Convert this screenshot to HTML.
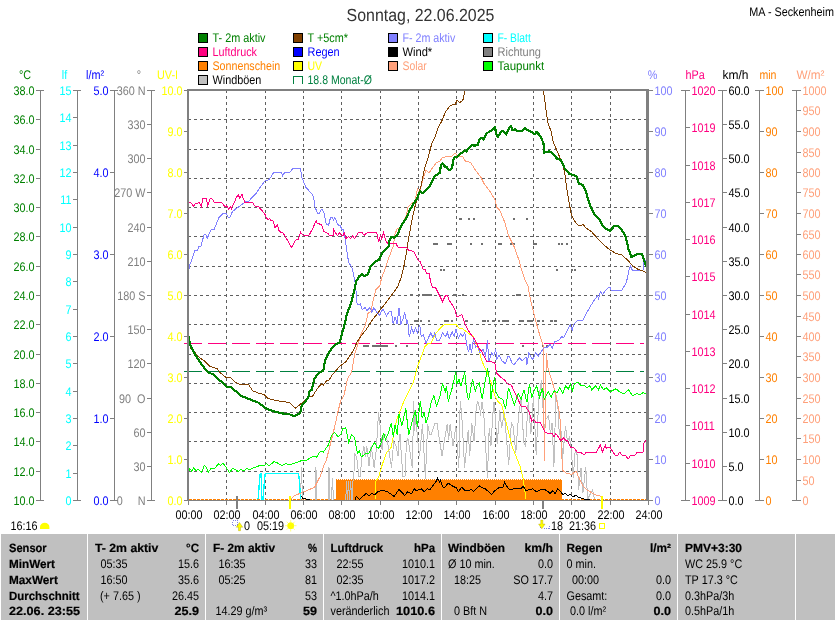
<!DOCTYPE html>
<html><head><meta charset="utf-8"><title>Wetter</title>
<style>html,body{margin:0;padding:0;background:#fff;}svg{display:block;will-change:transform;}text{white-space:pre;}</style></head>
<body>
<svg width="835" height="620" viewBox="0 0 835 620" font-family="'Liberation Sans', sans-serif" shape-rendering="crispEdges" text-rendering="geometricPrecision">
<rect x="0" y="0" width="835" height="620" fill="#fff"/>
<text transform="translate(420.5,21) scale(0.905,1)" text-anchor="middle" font-size="17.6" fill="#333">Sonntag, 22.06.2025</text>
<text transform="translate(834,16) scale(0.865,1)" text-anchor="end" font-size="12.5" fill="#000">MA - Seckenheim</text>
<rect x="198.5" y="33.5" width="9" height="9" fill="#008000" stroke="#000" stroke-width="1"/>
<text x="212.5" y="42" textLength="53" lengthAdjust="spacingAndGlyphs" text-anchor="start" font-size="12.5" fill="#008000">T- 2m aktiv</text>
<rect x="198.5" y="47.5" width="9" height="9" fill="#FF0080" stroke="#000" stroke-width="1"/>
<text x="212.5" y="56" textLength="44.5" lengthAdjust="spacingAndGlyphs" text-anchor="start" font-size="12.5" fill="#FF0080">Luftdruck</text>
<rect x="198.5" y="61.5" width="9" height="9" fill="#FF8000" stroke="#000" stroke-width="1"/>
<text x="212.5" y="70" textLength="67.7" lengthAdjust="spacingAndGlyphs" text-anchor="start" font-size="12.5" fill="#FF8000">Sonnenschein</text>
<rect x="198.5" y="75.5" width="9" height="9" fill="#C0C0C0" stroke="#000" stroke-width="1"/>
<text x="212.5" y="84" textLength="48.8" lengthAdjust="spacingAndGlyphs" text-anchor="start" font-size="12.5" fill="#000">Windböen</text>
<rect x="293.5" y="33.5" width="9" height="9" fill="#804000" stroke="#000" stroke-width="1"/>
<text x="307.5" y="42" textLength="40.5" lengthAdjust="spacingAndGlyphs" text-anchor="start" font-size="12.5" fill="#008000">T +5cm*</text>
<rect x="293.5" y="47.5" width="9" height="9" fill="#0000FF" stroke="#000" stroke-width="1"/>
<text x="307.5" y="56" textLength="32.2" lengthAdjust="spacingAndGlyphs" text-anchor="start" font-size="12.5" fill="#0000FF">Regen</text>
<rect x="293.5" y="61.5" width="9" height="9" fill="#FFFF00" stroke="#000" stroke-width="1"/>
<text x="307.5" y="70" textLength="14.6" lengthAdjust="spacingAndGlyphs" text-anchor="start" font-size="12.5" fill="#FFFF00">UV</text>
<path d="M293.5,84 V76.5 H302.5 V84" fill="none" stroke="#008040" stroke-width="1"/>
<text x="307.5" y="84" textLength="64.4" lengthAdjust="spacingAndGlyphs" text-anchor="start" font-size="12.5" fill="#008040">18.8 Monat-Ø</text>
<rect x="388.5" y="33.5" width="9" height="9" fill="#8080FF" stroke="#000" stroke-width="1"/>
<text x="402.5" y="42" textLength="52.8" lengthAdjust="spacingAndGlyphs" text-anchor="start" font-size="12.5" fill="#8080FF">F- 2m aktiv</text>
<rect x="388.5" y="47.5" width="9" height="9" fill="#000" stroke="#000" stroke-width="1"/>
<text x="402.5" y="56" textLength="29.7" lengthAdjust="spacingAndGlyphs" text-anchor="start" font-size="12.5" fill="#000">Wind*</text>
<rect x="388.5" y="61.5" width="9" height="9" fill="#FFA07A" stroke="#000" stroke-width="1"/>
<text x="402.5" y="70" textLength="24.3" lengthAdjust="spacingAndGlyphs" text-anchor="start" font-size="12.5" fill="#FFA07A">Solar</text>
<rect x="483.5" y="33.5" width="9" height="9" fill="#00FFFF" stroke="#000" stroke-width="1"/>
<text x="497.5" y="42" textLength="33.3" lengthAdjust="spacingAndGlyphs" text-anchor="start" font-size="12.5" fill="#00FFFF">F- Blatt</text>
<rect x="483.5" y="47.5" width="9" height="9" fill="#808080" stroke="#000" stroke-width="1"/>
<text x="497.5" y="56" textLength="43.5" lengthAdjust="spacingAndGlyphs" text-anchor="start" font-size="12.5" fill="#808080">Richtung</text>
<rect x="483.5" y="61.5" width="9" height="9" fill="#00FF00" stroke="#000" stroke-width="1"/>
<text x="497.5" y="70" textLength="46.7" lengthAdjust="spacingAndGlyphs" text-anchor="start" font-size="12.5" fill="#008000">Taupunkt</text>
<line x1="226.5" y1="90" x2="226.5" y2="500" stroke="#606060" stroke-width="1" stroke-dasharray="3 3"/>
<line x1="265.5" y1="90" x2="265.5" y2="500" stroke="#606060" stroke-width="1" stroke-dasharray="3 3"/>
<line x1="303.5" y1="90" x2="303.5" y2="500" stroke="#606060" stroke-width="1" stroke-dasharray="3 3"/>
<line x1="341.5" y1="90" x2="341.5" y2="500" stroke="#606060" stroke-width="1" stroke-dasharray="3 3"/>
<line x1="380.5" y1="90" x2="380.5" y2="500" stroke="#606060" stroke-width="1" stroke-dasharray="3 3"/>
<line x1="418.5" y1="90" x2="418.5" y2="500" stroke="#606060" stroke-width="1" stroke-dasharray="3 3"/>
<line x1="456.5" y1="90" x2="456.5" y2="500" stroke="#606060" stroke-width="1" stroke-dasharray="3 3"/>
<line x1="495.5" y1="90" x2="495.5" y2="500" stroke="#606060" stroke-width="1" stroke-dasharray="3 3"/>
<line x1="533.5" y1="90" x2="533.5" y2="500" stroke="#606060" stroke-width="1" stroke-dasharray="3 3"/>
<line x1="571.5" y1="90" x2="571.5" y2="500" stroke="#606060" stroke-width="1" stroke-dasharray="3 3"/>
<line x1="610.5" y1="90" x2="610.5" y2="500" stroke="#606060" stroke-width="1" stroke-dasharray="3 3"/>
<line x1="188" y1="119.5" x2="646" y2="119.5" stroke="#606060" stroke-width="1" stroke-dasharray="3 3"/>
<line x1="188" y1="149.5" x2="646" y2="149.5" stroke="#606060" stroke-width="1" stroke-dasharray="3 3"/>
<line x1="188" y1="178.5" x2="646" y2="178.5" stroke="#606060" stroke-width="1" stroke-dasharray="3 3"/>
<line x1="188" y1="207.5" x2="646" y2="207.5" stroke="#606060" stroke-width="1" stroke-dasharray="3 3"/>
<line x1="188" y1="236.5" x2="646" y2="236.5" stroke="#606060" stroke-width="1" stroke-dasharray="3 3"/>
<line x1="188" y1="266.5" x2="646" y2="266.5" stroke="#606060" stroke-width="1" stroke-dasharray="3 3"/>
<line x1="188" y1="295.5" x2="646" y2="295.5" stroke="#606060" stroke-width="1" stroke-dasharray="3 3"/>
<line x1="188" y1="324.5" x2="646" y2="324.5" stroke="#606060" stroke-width="1" stroke-dasharray="3 3"/>
<line x1="188" y1="354.5" x2="646" y2="354.5" stroke="#606060" stroke-width="1" stroke-dasharray="3 3"/>
<line x1="188" y1="383.5" x2="646" y2="383.5" stroke="#606060" stroke-width="1" stroke-dasharray="3 3"/>
<line x1="188" y1="412.5" x2="646" y2="412.5" stroke="#606060" stroke-width="1" stroke-dasharray="3 3"/>
<line x1="188" y1="441.5" x2="646" y2="441.5" stroke="#606060" stroke-width="1" stroke-dasharray="3 3"/>
<line x1="188" y1="471.5" x2="646" y2="471.5" stroke="#606060" stroke-width="1" stroke-dasharray="3 3"/>
<rect x="336" y="480" width="226" height="20" fill="#FF8000"/>
<line x1="336" y1="479.5" x2="562" y2="479.5" stroke="#FF8000" stroke-width="1" stroke-dasharray="1 1"/>
<line x1="189" y1="499.5" x2="646" y2="499.5" stroke="#FF8000" stroke-width="1" stroke-dasharray="3 1"/>
<polyline points="300.5,500.0 301.5,467.0 302.5,500.0 315.0,500.0 315.9,467.0 317.0,500.0 328.0,500.0 329.0,467.0 330.0,500.0 331.5,500.0 332.4,478.0 333.5,500.0 345.8,500.0 346.5,481.0 347.5,500.0 348.5,481.0 349.5,500.0 350.5,481.0 352.0,500.0 353.0,481.0 353.8,479.2 354.5,453.0 356.7,457.4 358.9,476.3 360.3,476.3 361.8,457.4 363.9,445.8 365.4,457.4 366.8,445.8 369.0,466.1 371.2,445.8 374.1,467.6 376.3,450.1 378.5,412.4 379.9,424.0 382.1,450.1 383.5,434.2 385.7,434.2 387.9,444.3 391.5,467.6 393.7,441.4 395.9,445.8 398.1,456.0 399.5,434.2 400.0,434.2 400.7,445.8 402.9,476.3 405.0,476.3 406.5,441.4 408.0,438.5 412.3,467.6 413.8,400.8 414.5,431.3 416.0,413.9 417.4,438.5 419.6,456.0 422.5,424.0 425.4,479.2 427.6,424.0 429.8,434.2 431.2,434.2 434.8,423.3 437.0,423.3 439.9,442.9 442.1,456.0 444.3,441.4 447.2,424.0 448.6,440.0 450.1,424.0 453.0,445.8 455.9,426.2 458.8,467.6 460.2,400.8 461.7,413.9 464.6,467.6 468.2,429.8 469.7,456.0 471.8,423.3 474.0,441.4 476.2,408.0 477.6,400.8 480.0,409.5 480.3,415.8 482.1,401.6 483.9,415.8 487.4,477.8 489.2,428.2 491.0,445.9 492.7,415.8 494.1,401.6 497.2,444.1 499.8,410.5 501.6,428.2 504.3,412.2 508.7,465.4 511.3,422.9 513.1,426.4 515.8,453.0 518.4,417.6 521.1,398.0 523.8,442.4 525.5,445.9 528.2,401.6 530.9,433.5 533.5,396.3 536.2,454.8 538.8,398.0 541.5,380.3 544.1,428.2 545.9,419.3 548.6,415.8 550.4,433.5 552.1,422.9 553.9,467.2 555.0,428.2 555.8,394.7 557.7,402.4 559.3,435.3 560.6,423.7 562.6,458.5 565.5,425.6 567.4,441.1 569.4,437.3 571.3,448.9 573.2,477.9 575.2,450.8 577.1,454.7 578.6,489.5 581.0,468.2 582.9,493.4 585.8,467.3 587.7,499.2 592.6,489.5 594.5,499.2" fill="none" stroke="#C0C0C0" stroke-width="1" />
<polyline points="258.1,499.3 259.6,480.1 260.2,473.2 261.0,473.2 261.4,486.1 262.0,499.3 263.2,499.3 264.4,480.1 265.3,473.2 298.5,473.2 299.3,480.1 300.3,494.5 300.9,499.3" fill="none" stroke="#00FFFF" stroke-width="1.3" />
<rect x="459" y="218" width="3" height="2" fill="#707070"/>
<rect x="468" y="218" width="2" height="2" fill="#707070"/>
<rect x="473" y="218" width="2" height="2" fill="#707070"/>
<rect x="513" y="218" width="2" height="2" fill="#707070"/>
<rect x="526" y="218" width="2" height="2" fill="#707070"/>
<rect x="433" y="243" width="5" height="2" fill="#707070"/>
<rect x="447" y="243" width="5" height="2" fill="#707070"/>
<rect x="470" y="243" width="2" height="2" fill="#707070"/>
<rect x="481" y="243" width="2" height="2" fill="#707070"/>
<rect x="498" y="243" width="2" height="2" fill="#707070"/>
<rect x="500" y="243" width="2" height="2" fill="#707070"/>
<rect x="510" y="243" width="2" height="2" fill="#707070"/>
<rect x="513" y="243" width="2" height="2" fill="#707070"/>
<rect x="533" y="243" width="4" height="2" fill="#707070"/>
<rect x="558" y="243" width="2" height="2" fill="#707070"/>
<rect x="561" y="243" width="2" height="2" fill="#707070"/>
<rect x="566" y="243" width="2" height="2" fill="#707070"/>
<rect x="440" y="269" width="2" height="2" fill="#707070"/>
<rect x="443" y="269" width="2" height="2" fill="#707070"/>
<rect x="556" y="269" width="2" height="2" fill="#707070"/>
<rect x="571" y="269" width="2" height="2" fill="#707070"/>
<rect x="574" y="269" width="2" height="2" fill="#707070"/>
<rect x="410" y="294" width="3" height="2" fill="#707070"/>
<rect x="418" y="294" width="2" height="2" fill="#707070"/>
<rect x="422" y="294" width="10" height="2" fill="#707070"/>
<rect x="453" y="294" width="4" height="2" fill="#707070"/>
<rect x="462" y="294" width="2" height="2" fill="#707070"/>
<rect x="516" y="294" width="5" height="2" fill="#707070"/>
<rect x="406" y="320" width="2" height="2" fill="#707070"/>
<rect x="414" y="320" width="5" height="2" fill="#707070"/>
<rect x="420" y="320" width="2" height="2" fill="#707070"/>
<rect x="428" y="320" width="2" height="2" fill="#707070"/>
<rect x="444" y="320" width="5" height="2" fill="#707070"/>
<rect x="451" y="320" width="2" height="2" fill="#707070"/>
<rect x="465" y="320" width="3" height="2" fill="#707070"/>
<rect x="482" y="320" width="4" height="2" fill="#707070"/>
<rect x="487" y="320" width="2" height="2" fill="#707070"/>
<rect x="492" y="320" width="3" height="2" fill="#707070"/>
<rect x="498" y="320" width="2" height="2" fill="#707070"/>
<rect x="502" y="320" width="7" height="2" fill="#707070"/>
<rect x="519" y="320" width="5" height="2" fill="#707070"/>
<rect x="527" y="320" width="6" height="2" fill="#707070"/>
<rect x="537" y="320" width="3" height="2" fill="#707070"/>
<rect x="542" y="320" width="2" height="2" fill="#707070"/>
<rect x="550" y="320" width="3" height="2" fill="#707070"/>
<rect x="554" y="320" width="3" height="2" fill="#707070"/>
<rect x="363" y="345" width="6" height="2" fill="#707070"/>
<rect x="372" y="345" width="16" height="2" fill="#707070"/>
<rect x="395" y="345" width="2" height="2" fill="#707070"/>
<rect x="406" y="345" width="2" height="2" fill="#707070"/>
<rect x="522" y="345" width="2" height="2" fill="#707070"/>
<rect x="542" y="345" width="2" height="2" fill="#707070"/>
<rect x="546" y="345" width="2" height="2" fill="#707070"/>
<line x1="184" y1="343.5" x2="644" y2="343.5" stroke="#FF0080" stroke-width="1" stroke-dasharray="18 6"/>
<line x1="184" y1="371.5" x2="644" y2="371.5" stroke="#008040" stroke-width="1" stroke-dasharray="18 6"/>
<polyline points="290.4,499.4 294.3,495.7 300.3,493.3 307.5,490.3 314.7,487.3 317.0,482.5 320.7,475.4 323.7,465.8 326.2,460.8 329.1,449.2 332.0,437.6 334.9,425.9 337.8,412.4 340.7,400.8 343.9,395.6 347.7,378.2 351.6,372.4 354.5,355.0 357.4,345.3 361.3,333.7 365.1,325.9 368.0,313.4 370.9,311.1 373.8,297.5 375.8,289.8 379.7,285.9 381.6,278.2 384.5,270.4 388.4,258.8 393.2,246.3 395.1,233.7 397.1,228.8 400.0,227.9 402.9,222.1 406.7,214.3 407.7,207.6 412.5,202.7 414.5,203.0 417.4,189.4 419.3,193.3 422.2,181.7 426.1,170.1 429.0,173.0 430.9,170.1 436.7,162.4 439.6,161.4 442.5,157.5 447.4,156.6 451.2,157.0 455.1,153.1 458.0,156.6 462.8,157.0 465.7,161.4 470.6,162.4 475.4,170.1 481.2,177.9 484.1,183.7 489.9,191.4 494.7,199.1 496.9,207.6 499.8,210.5 504.7,222.1 508.5,235.6 514.3,247.2 519.2,260.8 521.1,268.5 525.0,280.1 527.9,285.9 530.8,301.4 532.7,308.5 536.6,324.0 540.5,337.6 543.4,346.3 543.7,391.7 544.3,460.8 545.3,414.0 546.3,353.0 547.6,366.6 551.1,378.2 554.0,387.8 556.9,401.4 559.8,414.3 561.7,453.0 562.7,470.4 566.6,473.3 571.4,474.3 576.2,471.4 579.1,478.2 583.0,485.9 586.9,489.8 591.7,492.7 597.5,495.6 602.4,496.5 602.4,500.0" fill="none" stroke="#FFA07A" stroke-width="1" />
<polyline points="375.4,499.4 375.8,481.1 378.7,477.2 381.6,466.6 386.4,453.0 391.3,447.2 394.2,431.7 397.1,418.2 400.0,411.4 402.9,403.7 405.8,397.5 413.5,382.0 417.4,366.6 421.2,356.9 425.1,346.3 428.0,343.4 430.9,343.4 434.8,334.7 439.6,328.8 444.4,324.4 456.1,324.4 459.0,328.3 462.8,328.8 467.7,332.7 473.5,336.6 478.3,348.2 482.2,361.7 487.0,372.4 490.9,382.0 494.7,395.6 497.6,401.4 501.8,404.7 504.7,416.3 508.5,431.7 512.4,447.2 516.3,456.9 520.1,466.6 523.0,478.2 525.0,491.7 525.9,499.4" fill="none" stroke="#FFFF00" stroke-width="1" />
<polyline points="188.5,473.3 189.8,468.5 191.8,471.4 193.7,467.5 195.6,470.4 198.5,469.5 201.4,472.4 204.3,465.6 206.3,467.5 208.2,472.4 211.1,468.5 214.0,468.9 218.8,463.7 220.8,465.6 222.7,463.1 225.6,466.6 229.5,472.4 232.4,468.5 235.3,469.5 238.2,471.4 241.1,469.5 244.0,470.8 246.9,468.5 249.8,469.5 254.6,467.5 259.5,465.6 264.3,465.6 266.2,463.7 269.1,465.6 274.0,461.7 277.8,463.1 281.7,465.6 285.6,463.7 290.4,464.6 296.2,462.7 301.0,460.8 305.9,460.8 310.7,457.3 314.6,456.5 316.5,457.3 320.4,451.1 323.3,452.1 328.1,445.3 331.0,436.6 333.0,433.7 334.9,432.7 337.8,436.6 340.7,434.7 342.9,428.8 345.8,427.9 348.7,442.4 351.6,434.7 354.5,437.6 357.4,453.0 359.3,451.1 361.3,456.9 365.1,454.0 369.0,453.0 372.9,445.3 374.8,442.4 376.8,447.2 378.7,448.2 381.6,441.4 383.5,432.7 385.5,439.5 388.4,432.7 391.3,423.0 393.2,436.6 395.1,425.0 397.1,434.7 399.0,414.3 401.9,425.9 405.8,408.5 408.7,434.7 412.5,420.1 415.4,410.5 417.4,426.9 420.3,400.8 422.2,418.2 424.1,412.4 426.1,423.0 429.0,413.4 430.9,403.3 433.8,395.8 436.7,406.2 439.6,397.5 442.5,384.0 445.4,391.7 446.4,385.9 448.3,401.4 452.2,387.8 455.7,372.4 457.0,384.0 459.0,379.1 460.9,385.9 464.8,372.4 466.7,391.7 468.6,400.4 472.5,379.1 475.4,391.7 476.4,386.9 479.3,383.0 482.2,399.4 484.1,387.8 487.4,368.5 489.9,382.0 490.9,399.4 492.8,385.9 494.7,377.2 496.0,391.7 498.9,397.5 502.7,399.4 505.6,409.1 508.5,387.8 511.4,395.6 514.3,405.3 518.2,393.7 521.1,399.4 524.0,389.8 526.9,402.4 529.4,384.0 531.8,397.5 533.7,391.7 536.6,385.9 539.5,397.5 542.4,387.8 544.3,399.4 548.2,391.7 551.1,397.5 554.0,390.7 556.9,392.7 559.8,387.8 562.7,393.7 565.6,385.9 568.5,388.8 570.4,384.0 572.4,390.7 574.3,384.0 578.2,382.0 581.1,385.9 584.0,384.9 586.9,387.8 589.8,385.9 591.7,389.8 595.6,385.9 598.5,389.8 600.4,384.9 603.3,389.8 606.2,387.8 610.1,391.7 615.9,388.8 620.7,392.7 624.6,393.7 628.5,389.8 632.3,395.6 637.2,393.7 640.1,394.6 643.0,392.7 645.9,393.7" fill="none" stroke="#00FF00" stroke-width="1" />
<polyline points="188.5,274.4 189.3,266.2 190.8,262.4 194.7,250.8 197.6,250.4 198.9,246.5 200.9,246.5 204.0,234.9 205.9,234.3 207.2,238.2 211.1,229.9 214.0,229.5 218.8,217.9 222.7,213.6 226.0,213.6 228.5,217.5 229.9,217.5 232.4,211.7 235.3,209.2 240.1,205.9 245.0,202.0 248.8,201.0 256.6,192.7 261.4,185.6 265.3,180.7 269.1,179.8 273.6,172.4 281.1,172.4 282.7,175.9 284.6,172.4 290.4,172.0 292.7,168.6 300.5,168.6 301.6,176.9 305.9,187.5 311.7,193.5 313.6,197.4 315.0,207.2 317.5,213.0 319.4,213.0 321.4,209.2 322.7,210.1 324.3,214.0 326.2,223.7 328.5,225.6 330.5,217.5 332.4,217.5 333.5,219.8 334.9,217.5 337.8,224.7 339.7,225.6 340.0,225.0 341.9,229.8 343.0,228.8 344.8,236.6 346.8,251.1 348.7,262.7 351.6,266.6 353.5,274.3 355.5,284.0 357.0,303.3 358.4,304.7 360.3,303.7 362.2,309.5 365.1,307.6 367.1,310.5 370.0,307.6 371.9,312.4 373.8,307.6 376.8,312.4 379.7,315.3 381.6,310.5 383.5,309.5 386.4,316.3 389.3,311.4 391.3,311.4 393.2,324.0 395.1,317.2 397.1,324.0 399.0,307.6 400.9,324.0 402.9,319.2 404.8,312.4 406.7,323.0 407.7,321.1 409.2,336.6 411.6,327.9 413.5,332.7 415.4,327.9 417.4,332.7 419.7,325.0 421.2,336.6 423.2,334.7 426.1,343.4 429.0,336.6 430.9,332.7 432.8,337.6 434.8,332.7 436.7,340.5 439.6,340.5 442.5,332.7 445.4,336.6 447.4,332.7 449.3,338.5 452.2,331.8 454.1,336.6 456.1,328.8 458.4,338.5 460.9,333.7 462.8,336.6 464.8,332.7 466.7,344.3 468.6,352.1 470.0,344.3 471.5,353.0 473.5,338.5 475.4,347.2 477.7,346.3 480.2,353.0 483.1,349.2 485.5,356.9 487.4,340.5 488.9,360.8 491.8,353.0 493.8,355.9 495.7,349.2 496.9,358.8 498.9,355.0 501.8,360.8 505.6,363.7 507.6,356.9 509.5,356.9 512.4,363.7 514.3,364.6 519.2,357.9 522.1,360.8 526.0,356.9 526.9,364.6 528.8,353.0 532.7,359.8 535.6,353.0 538.5,355.9 543.4,348.2 547.2,347.2 550.1,344.3 552.1,348.2 555.0,341.4 558.8,340.5 561.7,336.6 563.7,337.6 567.5,329.8 570.4,325.0 572.4,330.8 573.3,325.0 578.2,320.1 583.0,320.1 585.9,314.3 589.8,307.4 593.6,301.0 597.5,295.8 598.5,298.5 600.4,291.7 602.4,294.6 605.3,290.7 608.2,287.5 610.1,287.5 611.1,290.7 621.7,290.7 626.5,282.0 629.4,268.5 630.4,266.2 632.3,270.0 643.0,270.0 643.9,262.7 645.9,259.8" fill="none" stroke="#8080FF" stroke-width="1" />
<polyline points="188.5,341.4 190.8,348.2 194.7,352.1 198.5,356.9 204.3,360.8 210.1,366.6 216.9,368.5 220.8,373.3 226.6,377.8 230.5,377.8 235.3,382.0 240.1,384.4 248.8,385.0 252.7,390.7 258.5,393.3 264.3,394.6 268.2,398.5 275.9,400.4 283.7,401.8 289.5,402.4 295.3,408.2 299.1,405.3 302.0,402.9 305.9,399.4 308.8,396.5 312.7,396.0 318.5,386.9 321.4,384.0 323.3,385.0 326.2,381.1 329.1,380.1 332.0,375.3 337.8,368.5 340.7,365.6 345.8,361.7 349.7,355.9 353.5,350.1 357.4,341.4 361.3,335.6 366.1,329.8 370.9,322.1 376.8,314.3 381.6,308.2 388.4,299.4 394.2,291.7 398.0,285.9 400.9,278.2 403.8,266.6 406.7,251.1 408.7,237.6 411.6,222.1 414.5,208.5 417.4,197.0 421.2,185.6 424.1,170.1 428.0,158.5 431.9,143.0 434.8,137.2 438.6,126.6 441.5,121.8 445.4,112.1 450.3,105.3 455.1,104.3 457.0,100.5 459.9,102.4 462.8,100.5 464.8,91.0" fill="none" stroke="#804000" stroke-width="1" />
<polyline points="543.4,91.0 545.3,104.3 547.6,121.8 551.1,131.4 553.0,141.1 556.9,150.8 561.7,161.4 564.6,172.0 566.6,187.5 569.5,204.7 571.4,215.3 575.3,222.1 578.2,225.0 580.1,226.0 583.0,224.4 585.9,227.9 591.7,231.8 597.5,238.5 603.3,244.3 609.1,249.2 614.9,253.0 621.7,255.0 628.5,260.8 632.3,265.6 638.1,269.5 642.0,270.4 646.3,272.8" fill="none" stroke="#804000" stroke-width="1" />
<polyline points="188.5,202.8 190.8,202.8 193.7,206.3 195.6,203.4 199.5,202.8 201.4,206.3 202.8,198.5 206.3,198.5 207.8,205.9 210.1,198.9 212.1,198.9 214.4,202.4 221.8,202.8 224.7,206.3 226.6,205.9 228.5,209.2 230.5,207.2 231.4,208.6 234.3,202.4 236.3,197.6 238.2,194.7 239.7,198.2 242.1,194.3 243.0,197.6 245.0,202.8 252.7,202.8 255.0,206.3 258.1,206.3 262.4,211.1 265.3,215.0 266.2,217.9 268.2,219.8 269.7,218.3 271.1,220.8 273.0,220.8 274.9,227.6 277.5,224.7 278.8,230.5 280.7,232.4 282.7,232.4 285.6,237.2 287.5,240.1 291.0,247.3 292.4,246.5 295.3,240.1 298.2,239.2 300.7,232.4 303.0,235.3 308.8,235.7 312.7,228.5 316.1,220.8 317.5,223.7 321.4,224.3 323.9,231.4 328.1,233.4 329.7,235.7 333.0,235.7 333.5,229.1 335.9,233.4 337.8,235.7 339.4,232.4 341.3,235.7 342.9,235.7 344.3,232.7 345.8,238.5 348.7,236.6 350.6,238.5 352.6,236.0 354.5,238.5 358.4,232.7 362.2,232.7 364.2,235.2 367.1,232.7 376.8,232.7 378.7,242.4 380.6,234.7 381.6,239.5 383.5,232.7 386.4,242.4 388.4,243.4 396.1,243.7 398.0,247.2 406.7,247.2 408.7,250.7 413.5,251.1 418.3,260.8 420.3,261.7 423.2,269.5 425.1,269.5 426.7,273.3 429.0,273.3 430.9,283.0 432.8,287.8 435.7,287.8 438.6,293.6 442.5,301.4 445.4,295.6 447.4,295.6 449.3,300.4 453.1,306.2 455.1,310.5 457.0,317.2 461.9,314.3 464.8,324.0 468.6,330.8 472.5,336.6 475.4,340.5 478.3,347.2 482.2,352.1 487.0,361.7 490.9,361.7 494.7,362.7 496.7,373.3 500.8,377.2 504.7,380.1 507.6,384.0 511.4,385.0 514.3,391.7 518.2,399.4 521.1,406.6 525.9,407.0 528.8,411.4 531.8,421.1 533.7,419.2 535.6,422.1 540.5,423.0 545.3,432.7 552.1,433.7 554.0,436.6 555.9,433.7 560.8,440.5 563.7,437.6 565.6,440.5 567.5,440.5 570.4,447.2 574.3,448.2 577.2,452.1 581.1,452.6 584.0,455.0 585.9,452.6 596.5,452.1 600.4,444.9 602.4,452.1 605.3,444.9 606.2,448.2 610.1,447.6 614.9,455.0 617.8,455.0 619.8,452.1 621.7,455.0 625.6,455.3 628.1,459.2 630.4,455.3 635.2,455.0 637.2,452.4 643.0,452.1 643.9,443.4 645.9,440.5" fill="none" stroke="#FF0080" stroke-width="1" />
<polyline points="300.9,495.7 303.3,498.7 310.5,499.5" fill="none" stroke="#000" stroke-width="1" />
<polyline points="355.0,499.5 356.4,496.5 359.3,499.4 366.1,493.6 369.0,495.6 371.9,493.6 374.8,494.6 378.7,491.1 384.5,490.7 387.4,491.7 394.2,496.5 399.0,489.4 404.8,495.6 407.7,491.7 411.6,493.6 414.5,488.8 416.4,490.7 421.2,488.8 424.1,491.7 427.0,488.8 429.9,489.8 432.8,485.9 435.7,482.0 437.7,478.2 439.6,482.0 440.6,480.1 442.5,486.9 444.4,487.8 448.3,483.0 452.2,485.9 456.1,487.8 458.4,491.7 461.9,486.9 464.8,490.7 471.5,489.8 473.5,491.7 479.3,485.9 482.2,487.8 485.1,488.8 488.9,491.7 491.8,494.6 494.7,490.7 498.9,487.8 502.7,487.5 504.7,482.0 506.6,485.9 509.5,489.8 514.3,488.8 521.1,488.8 523.0,485.9 525.9,490.7 532.7,488.8 536.6,491.7 540.5,489.8 545.3,489.8 548.2,491.7 550.1,493.6 553.0,490.7 555.0,493.6 557.9,488.8 560.8,491.7 562.7,494.6 565.6,493.6 567.5,495.6 570.4,494.6 572.4,496.5 576.2,495.6 579.1,497.5 584.0,499.0 589.8,499.4" fill="none" stroke="#000" stroke-width="1" />
<polyline points="188.5,336.6 189.8,343.4 191.8,348.2 194.7,354.0 198.5,359.8 202.4,365.6 208.2,372.4 213.0,374.3 216.9,378.2 221.8,382.0 226.6,386.9 231.4,387.5 236.3,391.7 241.1,396.0 248.8,398.9 258.5,402.7 266.2,408.5 274.0,411.4 281.7,413.4 289.5,414.3 294.3,416.3 300.1,413.4 302.0,404.7 305.9,400.8 308.8,396.0 308.8,391.7 311.7,389.8 314.6,378.2 318.5,373.3 323.3,370.8 325.2,359.8 329.1,352.1 333.9,345.7 339.7,342.4 341.7,334.7 344.8,324.0 346.8,314.3 350.6,304.7 351.6,301.4 356.4,281.1 359.3,276.2 362.2,273.9 364.2,276.2 368.0,274.3 370.0,267.5 373.8,262.7 378.7,259.8 381.6,254.0 386.4,248.2 388.7,246.3 389.3,240.5 391.3,236.6 394.2,237.6 397.1,235.6 400.0,228.8 402.9,223.0 405.8,219.2 409.6,210.5 413.5,203.7 417.4,197.9 418.3,195.3 420.3,191.4 423.2,193.3 429.9,185.6 434.8,175.9 439.6,173.0 440.0,171.3 441.0,164.5 442.9,163.5 444.4,166.4 446.8,166.9 448.7,170.3 452.1,168.4 453.1,160.6 454.5,157.7 457.9,156.3 459.8,153.8 463.2,151.9 464.7,150.5 466.6,151.4 469.0,147.6 471.9,145.1 474.3,145.6 477.7,145.1 479.7,138.9 481.6,137.9 483.5,139.8 486.9,133.1 489.8,131.6 495.1,127.3 496.1,134.0 498.0,136.9 500.9,131.6 502.9,130.6 506.2,134.5 509.2,127.7 511.1,126.3 512.1,130.2 514.0,130.2 515.0,128.7 516.4,130.6 520.0,130.6 522.1,131.0 525.0,127.9 528.8,131.0 532.7,132.4 534.6,134.3 536.6,131.8 540.5,136.3 543.4,143.0 544.3,152.7 549.2,151.2 553.0,153.7 556.9,158.5 560.8,160.0 564.6,168.2 569.5,174.0 572.4,174.9 576.2,175.9 579.1,183.7 583.0,185.2 585.9,191.4 587.8,198.2 589.8,204.7 594.6,214.3 598.5,218.2 602.4,225.0 606.2,228.8 610.1,230.8 614.0,226.3 617.8,225.9 621.7,229.8 625.6,236.6 628.5,249.2 631.4,256.9 637.2,254.0 642.0,254.0 643.9,259.8 646.3,266.6" fill="none" stroke="#008000" stroke-width="2.2" stroke-linejoin="round"/>
<rect x="187" y="89" width="2" height="412" fill="#808080"/>
<rect x="187" y="89" width="462" height="2" fill="#808080"/>
<rect x="646" y="89" width="3" height="412" fill="#808080"/>
<rect x="184" y="500" width="467" height="1" fill="#808080"/>
<line x1="40.5" y1="90" x2="40.5" y2="501" stroke="#808080" stroke-width="1" />
<line x1="36" y1="90.5" x2="44" y2="90.5" stroke="#808080" stroke-width="1" />
<text transform="translate(34.5,94.5) scale(0.865,1)" text-anchor="end" font-size="12.5" fill="#008000">38.0</text>
<line x1="36" y1="119.5" x2="40" y2="119.5" stroke="#808080" stroke-width="1" />
<text transform="translate(34.5,123.5) scale(0.865,1)" text-anchor="end" font-size="12.5" fill="#008000">36.0</text>
<line x1="36" y1="149.5" x2="40" y2="149.5" stroke="#808080" stroke-width="1" />
<text transform="translate(34.5,153.5) scale(0.865,1)" text-anchor="end" font-size="12.5" fill="#008000">34.0</text>
<line x1="36" y1="178.5" x2="40" y2="178.5" stroke="#808080" stroke-width="1" />
<text transform="translate(34.5,182.5) scale(0.865,1)" text-anchor="end" font-size="12.5" fill="#008000">32.0</text>
<line x1="36" y1="207.5" x2="40" y2="207.5" stroke="#808080" stroke-width="1" />
<text transform="translate(34.5,211.5) scale(0.865,1)" text-anchor="end" font-size="12.5" fill="#008000">30.0</text>
<line x1="36" y1="236.5" x2="40" y2="236.5" stroke="#808080" stroke-width="1" />
<text transform="translate(34.5,240.5) scale(0.865,1)" text-anchor="end" font-size="12.5" fill="#008000">28.0</text>
<line x1="36" y1="266.5" x2="40" y2="266.5" stroke="#808080" stroke-width="1" />
<text transform="translate(34.5,270.5) scale(0.865,1)" text-anchor="end" font-size="12.5" fill="#008000">26.0</text>
<line x1="36" y1="295.5" x2="40" y2="295.5" stroke="#808080" stroke-width="1" />
<text transform="translate(34.5,299.5) scale(0.865,1)" text-anchor="end" font-size="12.5" fill="#008000">24.0</text>
<line x1="36" y1="324.5" x2="40" y2="324.5" stroke="#808080" stroke-width="1" />
<text transform="translate(34.5,328.5) scale(0.865,1)" text-anchor="end" font-size="12.5" fill="#008000">22.0</text>
<line x1="36" y1="354.5" x2="40" y2="354.5" stroke="#808080" stroke-width="1" />
<text transform="translate(34.5,358.5) scale(0.865,1)" text-anchor="end" font-size="12.5" fill="#008000">20.0</text>
<line x1="36" y1="383.5" x2="40" y2="383.5" stroke="#808080" stroke-width="1" />
<text transform="translate(34.5,387.5) scale(0.865,1)" text-anchor="end" font-size="12.5" fill="#008000">18.0</text>
<line x1="36" y1="412.5" x2="40" y2="412.5" stroke="#808080" stroke-width="1" />
<text transform="translate(34.5,416.5) scale(0.865,1)" text-anchor="end" font-size="12.5" fill="#008000">16.0</text>
<line x1="36" y1="441.5" x2="40" y2="441.5" stroke="#808080" stroke-width="1" />
<text transform="translate(34.5,445.5) scale(0.865,1)" text-anchor="end" font-size="12.5" fill="#008000">14.0</text>
<line x1="36" y1="471.5" x2="40" y2="471.5" stroke="#808080" stroke-width="1" />
<text transform="translate(34.5,475.5) scale(0.865,1)" text-anchor="end" font-size="12.5" fill="#008000">12.0</text>
<line x1="36" y1="500.5" x2="44" y2="500.5" stroke="#808080" stroke-width="1" />
<text transform="translate(34.5,504.5) scale(0.865,1)" text-anchor="end" font-size="12.5" fill="#008000">10.0</text>
<text transform="translate(25,79) scale(0.865,1)" text-anchor="middle" font-size="12.5" fill="#008000">°C</text>
<line x1="77.5" y1="90" x2="77.5" y2="501" stroke="#808080" stroke-width="1" />
<line x1="73" y1="90.5" x2="81" y2="90.5" stroke="#808080" stroke-width="1" />
<text transform="translate(71.5,94.5) scale(0.865,1)" text-anchor="end" font-size="12.5" fill="#00FFFF">15</text>
<line x1="73" y1="117.5" x2="77" y2="117.5" stroke="#808080" stroke-width="1" />
<text transform="translate(71.5,121.5) scale(0.865,1)" text-anchor="end" font-size="12.5" fill="#00FFFF">14</text>
<line x1="73" y1="145.5" x2="77" y2="145.5" stroke="#808080" stroke-width="1" />
<text transform="translate(71.5,149.5) scale(0.865,1)" text-anchor="end" font-size="12.5" fill="#00FFFF">13</text>
<line x1="73" y1="172.5" x2="77" y2="172.5" stroke="#808080" stroke-width="1" />
<text transform="translate(71.5,176.5) scale(0.865,1)" text-anchor="end" font-size="12.5" fill="#00FFFF">12</text>
<line x1="73" y1="199.5" x2="77" y2="199.5" stroke="#808080" stroke-width="1" />
<text transform="translate(71.5,203.5) scale(0.865,1)" text-anchor="end" font-size="12.5" fill="#00FFFF">11</text>
<line x1="73" y1="227.5" x2="77" y2="227.5" stroke="#808080" stroke-width="1" />
<text transform="translate(71.5,231.5) scale(0.865,1)" text-anchor="end" font-size="12.5" fill="#00FFFF">10</text>
<line x1="73" y1="254.5" x2="77" y2="254.5" stroke="#808080" stroke-width="1" />
<text transform="translate(71.5,258.5) scale(0.865,1)" text-anchor="end" font-size="12.5" fill="#00FFFF">9</text>
<line x1="73" y1="281.5" x2="77" y2="281.5" stroke="#808080" stroke-width="1" />
<text transform="translate(71.5,285.5) scale(0.865,1)" text-anchor="end" font-size="12.5" fill="#00FFFF">8</text>
<line x1="73" y1="309.5" x2="77" y2="309.5" stroke="#808080" stroke-width="1" />
<text transform="translate(71.5,313.5) scale(0.865,1)" text-anchor="end" font-size="12.5" fill="#00FFFF">7</text>
<line x1="73" y1="336.5" x2="77" y2="336.5" stroke="#808080" stroke-width="1" />
<text transform="translate(71.5,340.5) scale(0.865,1)" text-anchor="end" font-size="12.5" fill="#00FFFF">6</text>
<line x1="73" y1="363.5" x2="77" y2="363.5" stroke="#808080" stroke-width="1" />
<text transform="translate(71.5,367.5) scale(0.865,1)" text-anchor="end" font-size="12.5" fill="#00FFFF">5</text>
<line x1="73" y1="391.5" x2="77" y2="391.5" stroke="#808080" stroke-width="1" />
<text transform="translate(71.5,395.5) scale(0.865,1)" text-anchor="end" font-size="12.5" fill="#00FFFF">4</text>
<line x1="73" y1="418.5" x2="77" y2="418.5" stroke="#808080" stroke-width="1" />
<text transform="translate(71.5,422.5) scale(0.865,1)" text-anchor="end" font-size="12.5" fill="#00FFFF">3</text>
<line x1="73" y1="445.5" x2="77" y2="445.5" stroke="#808080" stroke-width="1" />
<text transform="translate(71.5,449.5) scale(0.865,1)" text-anchor="end" font-size="12.5" fill="#00FFFF">2</text>
<line x1="73" y1="473.5" x2="77" y2="473.5" stroke="#808080" stroke-width="1" />
<text transform="translate(71.5,477.5) scale(0.865,1)" text-anchor="end" font-size="12.5" fill="#00FFFF">1</text>
<line x1="73" y1="500.5" x2="81" y2="500.5" stroke="#808080" stroke-width="1" />
<text transform="translate(71.5,504.5) scale(0.865,1)" text-anchor="end" font-size="12.5" fill="#00FFFF">0</text>
<text transform="translate(64.5,79) scale(0.865,1)" text-anchor="middle" font-size="12.5" fill="#00FFFF">lf</text>
<line x1="114.5" y1="90" x2="114.5" y2="501" stroke="#808080" stroke-width="1" />
<line x1="110" y1="90.5" x2="118" y2="90.5" stroke="#808080" stroke-width="1" />
<text transform="translate(108.5,94.5) scale(0.865,1)" text-anchor="end" font-size="12.5" fill="#0000FF">5.0</text>
<line x1="110" y1="172.5" x2="114" y2="172.5" stroke="#808080" stroke-width="1" />
<text transform="translate(108.5,176.5) scale(0.865,1)" text-anchor="end" font-size="12.5" fill="#0000FF">4.0</text>
<line x1="110" y1="254.5" x2="114" y2="254.5" stroke="#808080" stroke-width="1" />
<text transform="translate(108.5,258.5) scale(0.865,1)" text-anchor="end" font-size="12.5" fill="#0000FF">3.0</text>
<line x1="110" y1="336.5" x2="114" y2="336.5" stroke="#808080" stroke-width="1" />
<text transform="translate(108.5,340.5) scale(0.865,1)" text-anchor="end" font-size="12.5" fill="#0000FF">2.0</text>
<line x1="110" y1="418.5" x2="114" y2="418.5" stroke="#808080" stroke-width="1" />
<text transform="translate(108.5,422.5) scale(0.865,1)" text-anchor="end" font-size="12.5" fill="#0000FF">1.0</text>
<line x1="110" y1="500.5" x2="118" y2="500.5" stroke="#808080" stroke-width="1" />
<text transform="translate(108.5,504.5) scale(0.865,1)" text-anchor="end" font-size="12.5" fill="#0000FF">0.0</text>
<text transform="translate(95,79) scale(0.865,1)" text-anchor="middle" font-size="12.5" fill="#0000FF">l/m²</text>
<line x1="151.5" y1="90" x2="151.5" y2="501" stroke="#808080" stroke-width="1" />
<line x1="147" y1="90.5" x2="155" y2="90.5" stroke="#808080" stroke-width="1" />
<text transform="translate(145.5,94.5) scale(0.865,1)" text-anchor="end" font-size="12.5" fill="#808080">360 N</text>
<line x1="147" y1="124.5" x2="151" y2="124.5" stroke="#808080" stroke-width="1" />
<text transform="translate(145.5,128.5) scale(0.865,1)" text-anchor="end" font-size="12.5" fill="#808080">330</text>
<line x1="147" y1="158.5" x2="151" y2="158.5" stroke="#808080" stroke-width="1" />
<text transform="translate(145.5,162.5) scale(0.865,1)" text-anchor="end" font-size="12.5" fill="#808080">300</text>
<line x1="147" y1="192.5" x2="151" y2="192.5" stroke="#808080" stroke-width="1" />
<text transform="translate(145.5,196.5) scale(0.865,1)" text-anchor="end" font-size="12.5" fill="#808080">270 W</text>
<line x1="147" y1="227.5" x2="151" y2="227.5" stroke="#808080" stroke-width="1" />
<text transform="translate(145.5,231.5) scale(0.865,1)" text-anchor="end" font-size="12.5" fill="#808080">240</text>
<line x1="147" y1="261.5" x2="151" y2="261.5" stroke="#808080" stroke-width="1" />
<text transform="translate(145.5,265.5) scale(0.865,1)" text-anchor="end" font-size="12.5" fill="#808080">210</text>
<line x1="147" y1="295.5" x2="151" y2="295.5" stroke="#808080" stroke-width="1" />
<text transform="translate(145.5,299.5) scale(0.865,1)" text-anchor="end" font-size="12.5" fill="#808080">180 S</text>
<line x1="147" y1="329.5" x2="151" y2="329.5" stroke="#808080" stroke-width="1" />
<text transform="translate(145.5,333.5) scale(0.865,1)" text-anchor="end" font-size="12.5" fill="#808080">150</text>
<line x1="147" y1="363.5" x2="151" y2="363.5" stroke="#808080" stroke-width="1" />
<text transform="translate(145.5,367.5) scale(0.865,1)" text-anchor="end" font-size="12.5" fill="#808080">120</text>
<line x1="147" y1="398.5" x2="151" y2="398.5" stroke="#808080" stroke-width="1" />
<text transform="translate(145.5,402.5) scale(0.865,1)" text-anchor="end" font-size="12.5" fill="#808080">90  O</text>
<line x1="147" y1="432.5" x2="151" y2="432.5" stroke="#808080" stroke-width="1" />
<text transform="translate(145.5,436.5) scale(0.865,1)" text-anchor="end" font-size="12.5" fill="#808080">60</text>
<line x1="147" y1="466.5" x2="151" y2="466.5" stroke="#808080" stroke-width="1" />
<text transform="translate(145.5,470.5) scale(0.865,1)" text-anchor="end" font-size="12.5" fill="#808080">30</text>
<line x1="147" y1="500.5" x2="155" y2="500.5" stroke="#808080" stroke-width="1" />
<text transform="translate(145.5,504.5) scale(0.865,1)" text-anchor="end" font-size="12.5" fill="#808080">0     N</text>
<text transform="translate(139,79) scale(0.865,1)" text-anchor="middle" font-size="12.5" fill="#808080">°</text>
<line x1="184" y1="90.5" x2="187" y2="90.5" stroke="#808080" stroke-width="1" />
<text transform="translate(182.5,94.5) scale(0.865,1)" text-anchor="end" font-size="12.5" fill="#FFFF00">10.0</text>
<line x1="184" y1="131.5" x2="187" y2="131.5" stroke="#808080" stroke-width="1" />
<text transform="translate(182.5,135.5) scale(0.865,1)" text-anchor="end" font-size="12.5" fill="#FFFF00">9.0</text>
<line x1="184" y1="172.5" x2="187" y2="172.5" stroke="#808080" stroke-width="1" />
<text transform="translate(182.5,176.5) scale(0.865,1)" text-anchor="end" font-size="12.5" fill="#FFFF00">8.0</text>
<line x1="184" y1="213.5" x2="187" y2="213.5" stroke="#808080" stroke-width="1" />
<text transform="translate(182.5,217.5) scale(0.865,1)" text-anchor="end" font-size="12.5" fill="#FFFF00">7.0</text>
<line x1="184" y1="254.5" x2="187" y2="254.5" stroke="#808080" stroke-width="1" />
<text transform="translate(182.5,258.5) scale(0.865,1)" text-anchor="end" font-size="12.5" fill="#FFFF00">6.0</text>
<line x1="184" y1="295.5" x2="187" y2="295.5" stroke="#808080" stroke-width="1" />
<text transform="translate(182.5,299.5) scale(0.865,1)" text-anchor="end" font-size="12.5" fill="#FFFF00">5.0</text>
<line x1="184" y1="336.5" x2="187" y2="336.5" stroke="#808080" stroke-width="1" />
<text transform="translate(182.5,340.5) scale(0.865,1)" text-anchor="end" font-size="12.5" fill="#FFFF00">4.0</text>
<line x1="184" y1="377.5" x2="187" y2="377.5" stroke="#808080" stroke-width="1" />
<text transform="translate(182.5,381.5) scale(0.865,1)" text-anchor="end" font-size="12.5" fill="#FFFF00">3.0</text>
<line x1="184" y1="418.5" x2="187" y2="418.5" stroke="#808080" stroke-width="1" />
<text transform="translate(182.5,422.5) scale(0.865,1)" text-anchor="end" font-size="12.5" fill="#FFFF00">2.0</text>
<line x1="184" y1="459.5" x2="187" y2="459.5" stroke="#808080" stroke-width="1" />
<text transform="translate(182.5,463.5) scale(0.865,1)" text-anchor="end" font-size="12.5" fill="#FFFF00">1.0</text>
<line x1="184" y1="500.5" x2="187" y2="500.5" stroke="#808080" stroke-width="1" />
<text transform="translate(182.5,504.5) scale(0.865,1)" text-anchor="end" font-size="12.5" fill="#FFFF00">0.0</text>
<text transform="translate(167.5,79) scale(0.865,1)" text-anchor="middle" font-size="12.5" fill="#FFFF00">UV-I</text>
<line x1="649" y1="90.5" x2="653" y2="90.5" stroke="#808080" stroke-width="1" />
<text transform="translate(654.5,94.5) scale(0.865,1)" text-anchor="start" font-size="12.5" fill="#8080FF">100</text>
<line x1="649" y1="131.5" x2="653" y2="131.5" stroke="#808080" stroke-width="1" />
<text transform="translate(654.5,135.5) scale(0.865,1)" text-anchor="start" font-size="12.5" fill="#8080FF">90</text>
<line x1="649" y1="172.5" x2="653" y2="172.5" stroke="#808080" stroke-width="1" />
<text transform="translate(654.5,176.5) scale(0.865,1)" text-anchor="start" font-size="12.5" fill="#8080FF">80</text>
<line x1="649" y1="213.5" x2="653" y2="213.5" stroke="#808080" stroke-width="1" />
<text transform="translate(654.5,217.5) scale(0.865,1)" text-anchor="start" font-size="12.5" fill="#8080FF">70</text>
<line x1="649" y1="254.5" x2="653" y2="254.5" stroke="#808080" stroke-width="1" />
<text transform="translate(654.5,258.5) scale(0.865,1)" text-anchor="start" font-size="12.5" fill="#8080FF">60</text>
<line x1="649" y1="295.5" x2="653" y2="295.5" stroke="#808080" stroke-width="1" />
<text transform="translate(654.5,299.5) scale(0.865,1)" text-anchor="start" font-size="12.5" fill="#8080FF">50</text>
<line x1="649" y1="336.5" x2="653" y2="336.5" stroke="#808080" stroke-width="1" />
<text transform="translate(654.5,340.5) scale(0.865,1)" text-anchor="start" font-size="12.5" fill="#8080FF">40</text>
<line x1="649" y1="377.5" x2="653" y2="377.5" stroke="#808080" stroke-width="1" />
<text transform="translate(654.5,381.5) scale(0.865,1)" text-anchor="start" font-size="12.5" fill="#8080FF">30</text>
<line x1="649" y1="418.5" x2="653" y2="418.5" stroke="#808080" stroke-width="1" />
<text transform="translate(654.5,422.5) scale(0.865,1)" text-anchor="start" font-size="12.5" fill="#8080FF">20</text>
<line x1="649" y1="459.5" x2="653" y2="459.5" stroke="#808080" stroke-width="1" />
<text transform="translate(654.5,463.5) scale(0.865,1)" text-anchor="start" font-size="12.5" fill="#8080FF">10</text>
<line x1="649" y1="500.5" x2="653" y2="500.5" stroke="#808080" stroke-width="1" />
<text transform="translate(654.5,504.5) scale(0.865,1)" text-anchor="start" font-size="12.5" fill="#8080FF">0</text>
<text transform="translate(652.5,79) scale(0.865,1)" text-anchor="middle" font-size="12.5" fill="#8080FF">%</text>
<line x1="685.5" y1="90" x2="685.5" y2="501" stroke="#808080" stroke-width="1" />
<line x1="681" y1="90.5" x2="690" y2="90.5" stroke="#808080" stroke-width="1" />
<text transform="translate(691.5,94.5) scale(0.865,1)" text-anchor="start" font-size="12.5" fill="#FF0080">1020</text>
<line x1="686" y1="127.5" x2="690" y2="127.5" stroke="#808080" stroke-width="1" />
<text transform="translate(691.5,131.5) scale(0.865,1)" text-anchor="start" font-size="12.5" fill="#FF0080">1019</text>
<line x1="686" y1="165.5" x2="690" y2="165.5" stroke="#808080" stroke-width="1" />
<text transform="translate(691.5,169.5) scale(0.865,1)" text-anchor="start" font-size="12.5" fill="#FF0080">1018</text>
<line x1="686" y1="202.5" x2="690" y2="202.5" stroke="#808080" stroke-width="1" />
<text transform="translate(691.5,206.5) scale(0.865,1)" text-anchor="start" font-size="12.5" fill="#FF0080">1017</text>
<line x1="686" y1="239.5" x2="690" y2="239.5" stroke="#808080" stroke-width="1" />
<text transform="translate(691.5,243.5) scale(0.865,1)" text-anchor="start" font-size="12.5" fill="#FF0080">1016</text>
<line x1="686" y1="276.5" x2="690" y2="276.5" stroke="#808080" stroke-width="1" />
<text transform="translate(691.5,280.5) scale(0.865,1)" text-anchor="start" font-size="12.5" fill="#FF0080">1015</text>
<line x1="686" y1="314.5" x2="690" y2="314.5" stroke="#808080" stroke-width="1" />
<text transform="translate(691.5,318.5) scale(0.865,1)" text-anchor="start" font-size="12.5" fill="#FF0080">1014</text>
<line x1="686" y1="351.5" x2="690" y2="351.5" stroke="#808080" stroke-width="1" />
<text transform="translate(691.5,355.5) scale(0.865,1)" text-anchor="start" font-size="12.5" fill="#FF0080">1013</text>
<line x1="686" y1="388.5" x2="690" y2="388.5" stroke="#808080" stroke-width="1" />
<text transform="translate(691.5,392.5) scale(0.865,1)" text-anchor="start" font-size="12.5" fill="#FF0080">1012</text>
<line x1="686" y1="425.5" x2="690" y2="425.5" stroke="#808080" stroke-width="1" />
<text transform="translate(691.5,429.5) scale(0.865,1)" text-anchor="start" font-size="12.5" fill="#FF0080">1011</text>
<line x1="686" y1="463.5" x2="690" y2="463.5" stroke="#808080" stroke-width="1" />
<text transform="translate(691.5,467.5) scale(0.865,1)" text-anchor="start" font-size="12.5" fill="#FF0080">1010</text>
<line x1="681" y1="500.5" x2="690" y2="500.5" stroke="#808080" stroke-width="1" />
<text transform="translate(691.5,504.5) scale(0.865,1)" text-anchor="start" font-size="12.5" fill="#FF0080">1009</text>
<text transform="translate(685.5,79) scale(0.865,1)" text-anchor="start" font-size="12.5" fill="#FF0080">hPa</text>
<line x1="722.5" y1="90" x2="722.5" y2="501" stroke="#808080" stroke-width="1" />
<line x1="718" y1="90.5" x2="727" y2="90.5" stroke="#808080" stroke-width="1" />
<text transform="translate(728.5,94.5) scale(0.865,1)" text-anchor="start" font-size="12.5" fill="#000">60.0</text>
<line x1="723" y1="124.5" x2="727" y2="124.5" stroke="#808080" stroke-width="1" />
<text transform="translate(728.5,128.5) scale(0.865,1)" text-anchor="start" font-size="12.5" fill="#000">55.0</text>
<line x1="723" y1="158.5" x2="727" y2="158.5" stroke="#808080" stroke-width="1" />
<text transform="translate(728.5,162.5) scale(0.865,1)" text-anchor="start" font-size="12.5" fill="#000">50.0</text>
<line x1="723" y1="192.5" x2="727" y2="192.5" stroke="#808080" stroke-width="1" />
<text transform="translate(728.5,196.5) scale(0.865,1)" text-anchor="start" font-size="12.5" fill="#000">45.0</text>
<line x1="723" y1="227.5" x2="727" y2="227.5" stroke="#808080" stroke-width="1" />
<text transform="translate(728.5,231.5) scale(0.865,1)" text-anchor="start" font-size="12.5" fill="#000">40.0</text>
<line x1="723" y1="261.5" x2="727" y2="261.5" stroke="#808080" stroke-width="1" />
<text transform="translate(728.5,265.5) scale(0.865,1)" text-anchor="start" font-size="12.5" fill="#000">35.0</text>
<line x1="723" y1="295.5" x2="727" y2="295.5" stroke="#808080" stroke-width="1" />
<text transform="translate(728.5,299.5) scale(0.865,1)" text-anchor="start" font-size="12.5" fill="#000">30.0</text>
<line x1="723" y1="329.5" x2="727" y2="329.5" stroke="#808080" stroke-width="1" />
<text transform="translate(728.5,333.5) scale(0.865,1)" text-anchor="start" font-size="12.5" fill="#000">25.0</text>
<line x1="723" y1="363.5" x2="727" y2="363.5" stroke="#808080" stroke-width="1" />
<text transform="translate(728.5,367.5) scale(0.865,1)" text-anchor="start" font-size="12.5" fill="#000">20.0</text>
<line x1="723" y1="398.5" x2="727" y2="398.5" stroke="#808080" stroke-width="1" />
<text transform="translate(728.5,402.5) scale(0.865,1)" text-anchor="start" font-size="12.5" fill="#000">15.0</text>
<line x1="723" y1="432.5" x2="727" y2="432.5" stroke="#808080" stroke-width="1" />
<text transform="translate(728.5,436.5) scale(0.865,1)" text-anchor="start" font-size="12.5" fill="#000">10.0</text>
<line x1="723" y1="466.5" x2="727" y2="466.5" stroke="#808080" stroke-width="1" />
<text transform="translate(728.5,470.5) scale(0.865,1)" text-anchor="start" font-size="12.5" fill="#000">5.0</text>
<line x1="718" y1="500.5" x2="727" y2="500.5" stroke="#808080" stroke-width="1" />
<text transform="translate(728.5,504.5) scale(0.865,1)" text-anchor="start" font-size="12.5" fill="#000">0.0</text>
<text x="722.5" y="79" textLength="26" lengthAdjust="spacingAndGlyphs" text-anchor="start" font-size="12.5" fill="#000">km/h</text>
<line x1="759.5" y1="90" x2="759.5" y2="501" stroke="#808080" stroke-width="1" />
<line x1="755" y1="90.5" x2="764" y2="90.5" stroke="#808080" stroke-width="1" />
<text transform="translate(765.5,94.5) scale(0.865,1)" text-anchor="start" font-size="12.5" fill="#FF8000">100</text>
<line x1="760" y1="131.5" x2="764" y2="131.5" stroke="#808080" stroke-width="1" />
<text transform="translate(765.5,135.5) scale(0.865,1)" text-anchor="start" font-size="12.5" fill="#FF8000">90</text>
<line x1="760" y1="172.5" x2="764" y2="172.5" stroke="#808080" stroke-width="1" />
<text transform="translate(765.5,176.5) scale(0.865,1)" text-anchor="start" font-size="12.5" fill="#FF8000">80</text>
<line x1="760" y1="213.5" x2="764" y2="213.5" stroke="#808080" stroke-width="1" />
<text transform="translate(765.5,217.5) scale(0.865,1)" text-anchor="start" font-size="12.5" fill="#FF8000">70</text>
<line x1="760" y1="254.5" x2="764" y2="254.5" stroke="#808080" stroke-width="1" />
<text transform="translate(765.5,258.5) scale(0.865,1)" text-anchor="start" font-size="12.5" fill="#FF8000">60</text>
<line x1="760" y1="295.5" x2="764" y2="295.5" stroke="#808080" stroke-width="1" />
<text transform="translate(765.5,299.5) scale(0.865,1)" text-anchor="start" font-size="12.5" fill="#FF8000">50</text>
<line x1="760" y1="336.5" x2="764" y2="336.5" stroke="#808080" stroke-width="1" />
<text transform="translate(765.5,340.5) scale(0.865,1)" text-anchor="start" font-size="12.5" fill="#FF8000">40</text>
<line x1="760" y1="377.5" x2="764" y2="377.5" stroke="#808080" stroke-width="1" />
<text transform="translate(765.5,381.5) scale(0.865,1)" text-anchor="start" font-size="12.5" fill="#FF8000">30</text>
<line x1="760" y1="418.5" x2="764" y2="418.5" stroke="#808080" stroke-width="1" />
<text transform="translate(765.5,422.5) scale(0.865,1)" text-anchor="start" font-size="12.5" fill="#FF8000">20</text>
<line x1="760" y1="459.5" x2="764" y2="459.5" stroke="#808080" stroke-width="1" />
<text transform="translate(765.5,463.5) scale(0.865,1)" text-anchor="start" font-size="12.5" fill="#FF8000">10</text>
<line x1="755" y1="500.5" x2="764" y2="500.5" stroke="#808080" stroke-width="1" />
<text transform="translate(765.5,504.5) scale(0.865,1)" text-anchor="start" font-size="12.5" fill="#FF8000">0</text>
<text x="759.5" y="79" textLength="17" lengthAdjust="spacingAndGlyphs" text-anchor="start" font-size="12.5" fill="#FF8000">min</text>
<line x1="796.5" y1="90" x2="796.5" y2="501" stroke="#808080" stroke-width="1" />
<line x1="792" y1="90.5" x2="801" y2="90.5" stroke="#808080" stroke-width="1" />
<text transform="translate(802.5,94.5) scale(0.865,1)" text-anchor="start" font-size="12.5" fill="#FFA07A">1000</text>
<line x1="797" y1="110.5" x2="801" y2="110.5" stroke="#808080" stroke-width="1" />
<text transform="translate(802.5,114.5) scale(0.865,1)" text-anchor="start" font-size="12.5" fill="#FFA07A">950</text>
<line x1="797" y1="131.5" x2="801" y2="131.5" stroke="#808080" stroke-width="1" />
<text transform="translate(802.5,135.5) scale(0.865,1)" text-anchor="start" font-size="12.5" fill="#FFA07A">900</text>
<line x1="797" y1="152.5" x2="801" y2="152.5" stroke="#808080" stroke-width="1" />
<text transform="translate(802.5,156.5) scale(0.865,1)" text-anchor="start" font-size="12.5" fill="#FFA07A">850</text>
<line x1="797" y1="172.5" x2="801" y2="172.5" stroke="#808080" stroke-width="1" />
<text transform="translate(802.5,176.5) scale(0.865,1)" text-anchor="start" font-size="12.5" fill="#FFA07A">800</text>
<line x1="797" y1="192.5" x2="801" y2="192.5" stroke="#808080" stroke-width="1" />
<text transform="translate(802.5,196.5) scale(0.865,1)" text-anchor="start" font-size="12.5" fill="#FFA07A">750</text>
<line x1="797" y1="213.5" x2="801" y2="213.5" stroke="#808080" stroke-width="1" />
<text transform="translate(802.5,217.5) scale(0.865,1)" text-anchor="start" font-size="12.5" fill="#FFA07A">700</text>
<line x1="797" y1="234.5" x2="801" y2="234.5" stroke="#808080" stroke-width="1" />
<text transform="translate(802.5,238.5) scale(0.865,1)" text-anchor="start" font-size="12.5" fill="#FFA07A">650</text>
<line x1="797" y1="254.5" x2="801" y2="254.5" stroke="#808080" stroke-width="1" />
<text transform="translate(802.5,258.5) scale(0.865,1)" text-anchor="start" font-size="12.5" fill="#FFA07A">600</text>
<line x1="797" y1="274.5" x2="801" y2="274.5" stroke="#808080" stroke-width="1" />
<text transform="translate(802.5,278.5) scale(0.865,1)" text-anchor="start" font-size="12.5" fill="#FFA07A">550</text>
<line x1="797" y1="295.5" x2="801" y2="295.5" stroke="#808080" stroke-width="1" />
<text transform="translate(802.5,299.5) scale(0.865,1)" text-anchor="start" font-size="12.5" fill="#FFA07A">500</text>
<line x1="797" y1="316.5" x2="801" y2="316.5" stroke="#808080" stroke-width="1" />
<text transform="translate(802.5,320.5) scale(0.865,1)" text-anchor="start" font-size="12.5" fill="#FFA07A">450</text>
<line x1="797" y1="336.5" x2="801" y2="336.5" stroke="#808080" stroke-width="1" />
<text transform="translate(802.5,340.5) scale(0.865,1)" text-anchor="start" font-size="12.5" fill="#FFA07A">400</text>
<line x1="797" y1="356.5" x2="801" y2="356.5" stroke="#808080" stroke-width="1" />
<text transform="translate(802.5,360.5) scale(0.865,1)" text-anchor="start" font-size="12.5" fill="#FFA07A">350</text>
<line x1="797" y1="377.5" x2="801" y2="377.5" stroke="#808080" stroke-width="1" />
<text transform="translate(802.5,381.5) scale(0.865,1)" text-anchor="start" font-size="12.5" fill="#FFA07A">300</text>
<line x1="797" y1="398.5" x2="801" y2="398.5" stroke="#808080" stroke-width="1" />
<text transform="translate(802.5,402.5) scale(0.865,1)" text-anchor="start" font-size="12.5" fill="#FFA07A">250</text>
<line x1="797" y1="418.5" x2="801" y2="418.5" stroke="#808080" stroke-width="1" />
<text transform="translate(802.5,422.5) scale(0.865,1)" text-anchor="start" font-size="12.5" fill="#FFA07A">200</text>
<line x1="797" y1="438.5" x2="801" y2="438.5" stroke="#808080" stroke-width="1" />
<text transform="translate(802.5,442.5) scale(0.865,1)" text-anchor="start" font-size="12.5" fill="#FFA07A">150</text>
<line x1="797" y1="459.5" x2="801" y2="459.5" stroke="#808080" stroke-width="1" />
<text transform="translate(802.5,463.5) scale(0.865,1)" text-anchor="start" font-size="12.5" fill="#FFA07A">100</text>
<line x1="797" y1="480.5" x2="801" y2="480.5" stroke="#808080" stroke-width="1" />
<text transform="translate(802.5,484.5) scale(0.865,1)" text-anchor="start" font-size="12.5" fill="#FFA07A">50</text>
<line x1="792" y1="500.5" x2="801" y2="500.5" stroke="#808080" stroke-width="1" />
<text transform="translate(802.5,504.5) scale(0.865,1)" text-anchor="start" font-size="12.5" fill="#FFA07A">0</text>
<text x="796.5" y="79" textLength="28" lengthAdjust="spacingAndGlyphs" text-anchor="start" font-size="12.5" fill="#FFA07A">W/m²</text>
<line x1="188.5" y1="501" x2="188.5" y2="505" stroke="#808080" stroke-width="1" />
<text transform="translate(189,519) scale(0.865,1)" text-anchor="middle" font-size="12.5" fill="#000">00:00</text>
<line x1="226.5" y1="501" x2="226.5" y2="505" stroke="#808080" stroke-width="1" />
<text transform="translate(227,519) scale(0.865,1)" text-anchor="middle" font-size="12.5" fill="#000">02:00</text>
<line x1="265.5" y1="501" x2="265.5" y2="505" stroke="#808080" stroke-width="1" />
<text transform="translate(266,519) scale(0.865,1)" text-anchor="middle" font-size="12.5" fill="#000">04:00</text>
<line x1="303.5" y1="501" x2="303.5" y2="505" stroke="#808080" stroke-width="1" />
<text transform="translate(304,519) scale(0.865,1)" text-anchor="middle" font-size="12.5" fill="#000">06:00</text>
<line x1="341.5" y1="501" x2="341.5" y2="505" stroke="#808080" stroke-width="1" />
<text transform="translate(342,519) scale(0.865,1)" text-anchor="middle" font-size="12.5" fill="#000">08:00</text>
<line x1="380.5" y1="501" x2="380.5" y2="505" stroke="#808080" stroke-width="1" />
<text transform="translate(381,519) scale(0.865,1)" text-anchor="middle" font-size="12.5" fill="#000">10:00</text>
<line x1="418.5" y1="501" x2="418.5" y2="505" stroke="#808080" stroke-width="1" />
<text transform="translate(419,519) scale(0.865,1)" text-anchor="middle" font-size="12.5" fill="#000">12:00</text>
<line x1="456.5" y1="501" x2="456.5" y2="505" stroke="#808080" stroke-width="1" />
<text transform="translate(457,519) scale(0.865,1)" text-anchor="middle" font-size="12.5" fill="#000">14:00</text>
<line x1="495.5" y1="501" x2="495.5" y2="505" stroke="#808080" stroke-width="1" />
<text transform="translate(496,519) scale(0.865,1)" text-anchor="middle" font-size="12.5" fill="#000">16:00</text>
<line x1="533.5" y1="501" x2="533.5" y2="505" stroke="#808080" stroke-width="1" />
<text transform="translate(534,519) scale(0.865,1)" text-anchor="middle" font-size="12.5" fill="#000">18:00</text>
<line x1="571.5" y1="501" x2="571.5" y2="505" stroke="#808080" stroke-width="1" />
<text transform="translate(572,519) scale(0.865,1)" text-anchor="middle" font-size="12.5" fill="#000">20:00</text>
<line x1="610.5" y1="501" x2="610.5" y2="505" stroke="#808080" stroke-width="1" />
<text transform="translate(611,519) scale(0.865,1)" text-anchor="middle" font-size="12.5" fill="#000">22:00</text>
<line x1="648.5" y1="501" x2="648.5" y2="505" stroke="#808080" stroke-width="1" />
<text transform="translate(649,519) scale(0.865,1)" text-anchor="middle" font-size="12.5" fill="#000">24:00</text>
<rect x="236" y="496" width="2" height="13" fill="#808080"/>
<rect x="542" y="500" width="2" height="9" fill="#808080"/>
<rect x="289" y="496" width="2" height="13" fill="#FFFF00"/>
<rect x="601" y="496" width="2" height="13" fill="#FFFF00"/>
<text transform="translate(10.5,530) scale(0.865,1)" text-anchor="start" font-size="12.5" fill="#000">16:16</text>
<path d="M40,529 v-2 a4.7,4.2 0 0 1 9.4,0 v2 z" fill="#FFFF00" shape-rendering="auto"/>
<rect x="232.5" y="520.5" width="5" height="5" fill="none" stroke="#8080E8" stroke-dasharray="1 1" shape-rendering="crispEdges"/>
<path d="M239.5,522.5 l3.2,4.7 h-2.2 v3.5 h-2 v-3.5 h-2.2 z" fill="#FFFF00" stroke="#B0A000" stroke-width="0.4" shape-rendering="auto"/>
<text transform="translate(244,530) scale(0.865,1)" text-anchor="start" font-size="12.5" fill="#000">0</text>
<text transform="translate(257,530) scale(0.865,1)" text-anchor="start" font-size="12.5" fill="#000">05:19</text>
<g shape-rendering="auto"><circle cx="290.7" cy="525.7" r="3.2" fill="#FFFF00"/><path d="M290.7,520 v11.5 M285,525.7 h11.5 M286.7,521.7 l8,8 M294.7,521.7 l-8,8" stroke="#FFFF80" stroke-width="1"/><circle cx="290.7" cy="525.7" r="3.2" fill="#FFFF00"/></g>
<path d="M541.8,528.8 l-3.2,-4.7 h2.2 v-4 h2 v4 h2.2 z" fill="#FFFF00" stroke="#B0A000" stroke-width="0.4" shape-rendering="auto"/>
<path d="M540,527.5 h2 M544,528.5 h6 M549.5,526 v3" fill="none" stroke="#8080E8" stroke-dasharray="1 1"/>
<text transform="translate(551,530) scale(0.865,1)" text-anchor="start" font-size="12.5" fill="#000">18</text>
<text transform="translate(569,530) scale(0.865,1)" text-anchor="start" font-size="12.5" fill="#000">21:36</text>
<rect x="599.5" y="523.5" width="5" height="5" fill="none" stroke="#FFFF00"/>
<rect x="0" y="534" width="835" height="86" fill="#C0C0C0"/>
<rect x="0" y="534" width="1" height="86" fill="#fff"/>
<rect x="87" y="534" width="1" height="86" fill="#fff"/>
<rect x="205" y="534" width="1" height="86" fill="#fff"/>
<rect x="323" y="534" width="1" height="86" fill="#fff"/>
<rect x="441" y="534" width="1" height="86" fill="#fff"/>
<rect x="559" y="534" width="1" height="86" fill="#fff"/>
<rect x="677" y="534" width="1" height="86" fill="#fff"/>
<rect x="795" y="534" width="1" height="86" fill="#fff"/>
<text x="9" y="552" textLength="37.7" lengthAdjust="spacingAndGlyphs" text-anchor="start" font-size="12" fill="#000" font-weight="bold" stroke="#000" stroke-width="0.2">Sensor</text>
<text x="9" y="568" textLength="46" lengthAdjust="spacingAndGlyphs" text-anchor="start" font-size="12" fill="#000" font-weight="bold" stroke="#000" stroke-width="0.2">MinWert</text>
<text x="9" y="584" textLength="48.8" lengthAdjust="spacingAndGlyphs" text-anchor="start" font-size="12" fill="#000" font-weight="bold" stroke="#000" stroke-width="0.2">MaxWert</text>
<text x="9" y="600" textLength="70.5" lengthAdjust="spacingAndGlyphs" text-anchor="start" font-size="12" fill="#000" font-weight="bold" stroke="#000" stroke-width="0.2">Durchschnitt</text>
<text x="9" y="615" textLength="71" lengthAdjust="spacingAndGlyphs" text-anchor="start" font-size="12" fill="#000" font-weight="bold" stroke="#000" stroke-width="0.2">22.06. 23:55</text>
<text x="95" y="552" textLength="63.3" lengthAdjust="spacingAndGlyphs" text-anchor="start" font-size="12" fill="#000" font-weight="bold" stroke="#000" stroke-width="0.2">T- 2m aktiv</text>
<text x="199" y="552" textLength="13" lengthAdjust="spacingAndGlyphs" text-anchor="end" font-size="12" fill="#000" font-weight="bold" stroke="#000" stroke-width="0.2">°C</text>
<text transform="translate(100.5,568) scale(0.865,1)" text-anchor="start" font-size="12.5" fill="#000">05:35</text>
<text transform="translate(199,568) scale(0.865,1)" text-anchor="end" font-size="12.5" fill="#000">15.6</text>
<text transform="translate(100.5,584) scale(0.865,1)" text-anchor="start" font-size="12.5" fill="#000">16:50</text>
<text transform="translate(199,584) scale(0.865,1)" text-anchor="end" font-size="12.5" fill="#000">35.6</text>
<text transform="translate(100,600) scale(0.865,1)" text-anchor="start" font-size="12.5" fill="#000">(+ 7.65 )</text>
<text transform="translate(199,600) scale(0.865,1)" text-anchor="end" font-size="12.5" fill="#000">26.45</text>
<text x="199" y="615" textLength="24.5" lengthAdjust="spacingAndGlyphs" text-anchor="end" font-size="12" fill="#000" font-weight="bold" stroke="#000" stroke-width="0.2">25.9</text>
<text x="213" y="552" textLength="62" lengthAdjust="spacingAndGlyphs" text-anchor="start" font-size="12" fill="#000" font-weight="bold" stroke="#000" stroke-width="0.2">F- 2m aktiv</text>
<text x="317" y="552" textLength="9" lengthAdjust="spacingAndGlyphs" text-anchor="end" font-size="12" fill="#000" font-weight="bold" stroke="#000" stroke-width="0.2">%</text>
<text transform="translate(218.5,568) scale(0.865,1)" text-anchor="start" font-size="12.5" fill="#000">16:35</text>
<text transform="translate(317,568) scale(0.865,1)" text-anchor="end" font-size="12.5" fill="#000">33</text>
<text transform="translate(218.5,584) scale(0.865,1)" text-anchor="start" font-size="12.5" fill="#000">05:25</text>
<text transform="translate(317,584) scale(0.865,1)" text-anchor="end" font-size="12.5" fill="#000">81</text>
<text transform="translate(317,600) scale(0.865,1)" text-anchor="end" font-size="12.5" fill="#000">53</text>
<text transform="translate(215.5,615) scale(0.865,1)" text-anchor="start" font-size="12.5" fill="#000">14.29 g/m³</text>
<text x="317" y="615" textLength="14" lengthAdjust="spacingAndGlyphs" text-anchor="end" font-size="12" fill="#000" font-weight="bold" stroke="#000" stroke-width="0.2">59</text>
<text x="330.5" y="552" textLength="52.7" lengthAdjust="spacingAndGlyphs" text-anchor="start" font-size="12" fill="#000" font-weight="bold" stroke="#000" stroke-width="0.2">Luftdruck</text>
<text x="435" y="552" textLength="21" lengthAdjust="spacingAndGlyphs" text-anchor="end" font-size="12" fill="#000" font-weight="bold" stroke="#000" stroke-width="0.2">hPa</text>
<text transform="translate(336.5,568) scale(0.865,1)" text-anchor="start" font-size="12.5" fill="#000">22:55</text>
<text transform="translate(435,568) scale(0.865,1)" text-anchor="end" font-size="12.5" fill="#000">1010.1</text>
<text transform="translate(336.5,584) scale(0.865,1)" text-anchor="start" font-size="12.5" fill="#000">02:35</text>
<text transform="translate(435,584) scale(0.865,1)" text-anchor="end" font-size="12.5" fill="#000">1017.2</text>
<text transform="translate(330.5,600) scale(0.865,1)" text-anchor="start" font-size="12.5" fill="#000">^1.0hPa/h</text>
<text transform="translate(435,600) scale(0.865,1)" text-anchor="end" font-size="12.5" fill="#000">1014.1</text>
<text transform="translate(330.5,615) scale(0.865,1)" text-anchor="start" font-size="12.5" fill="#000">veränderlich</text>
<text x="435" y="615" textLength="39" lengthAdjust="spacingAndGlyphs" text-anchor="end" font-size="12" fill="#000" font-weight="bold" stroke="#000" stroke-width="0.2">1010.6</text>
<text x="448" y="552" textLength="57" lengthAdjust="spacingAndGlyphs" text-anchor="start" font-size="12" fill="#000" font-weight="bold" stroke="#000" stroke-width="0.2">Windböen</text>
<text x="553" y="552" textLength="28.5" lengthAdjust="spacingAndGlyphs" text-anchor="end" font-size="12" fill="#000" font-weight="bold" stroke="#000" stroke-width="0.2">km/h</text>
<text transform="translate(448,568) scale(0.865,1)" text-anchor="start" font-size="12.5" fill="#000">Ø 10 min.</text>
<text transform="translate(553,568) scale(0.865,1)" text-anchor="end" font-size="12.5" fill="#000">0.0</text>
<text transform="translate(454,584) scale(0.865,1)" text-anchor="start" font-size="12.5" fill="#000">18:25</text>
<text transform="translate(553,584) scale(0.865,1)" text-anchor="end" font-size="12.5" fill="#000">SO 17.7</text>
<text transform="translate(553,600) scale(0.865,1)" text-anchor="end" font-size="12.5" fill="#000">4.7</text>
<text transform="translate(454,615) scale(0.865,1)" text-anchor="start" font-size="12.5" fill="#000">0 Bft N</text>
<text x="553" y="615" textLength="17.5" lengthAdjust="spacingAndGlyphs" text-anchor="end" font-size="12" fill="#000" font-weight="bold" stroke="#000" stroke-width="0.2">0.0</text>
<text x="566.5" y="552" textLength="36" lengthAdjust="spacingAndGlyphs" text-anchor="start" font-size="12" fill="#000" font-weight="bold" stroke="#000" stroke-width="0.2">Regen</text>
<text x="671" y="552" textLength="21" lengthAdjust="spacingAndGlyphs" text-anchor="end" font-size="12" fill="#000" font-weight="bold" stroke="#000" stroke-width="0.2">l/m²</text>
<text transform="translate(566.5,568) scale(0.865,1)" text-anchor="start" font-size="12.5" fill="#000">0 min.</text>
<text transform="translate(572,584) scale(0.865,1)" text-anchor="start" font-size="12.5" fill="#000">00:00</text>
<text transform="translate(671,584) scale(0.865,1)" text-anchor="end" font-size="12.5" fill="#000">0.0</text>
<text transform="translate(566.5,600) scale(0.865,1)" text-anchor="start" font-size="12.5" fill="#000">Gesamt:</text>
<text transform="translate(671,600) scale(0.865,1)" text-anchor="end" font-size="12.5" fill="#000">0.0</text>
<text transform="translate(570,615) scale(0.865,1)" text-anchor="start" font-size="12.5" fill="#000">0.0 l/m²</text>
<text x="671" y="615" textLength="17.5" lengthAdjust="spacingAndGlyphs" text-anchor="end" font-size="12" fill="#000" font-weight="bold" stroke="#000" stroke-width="0.2">0.0</text>
<text x="685" y="552" textLength="57" lengthAdjust="spacingAndGlyphs" text-anchor="start" font-size="12" fill="#000" font-weight="bold" stroke="#000" stroke-width="0.2">PMV+3:30</text>
<text transform="translate(685,568) scale(0.865,1)" text-anchor="start" font-size="12.5" fill="#000">WC 25.9 °C</text>
<text transform="translate(685,584) scale(0.865,1)" text-anchor="start" font-size="12.5" fill="#000">TP 17.3 °C</text>
<text transform="translate(685,600) scale(0.865,1)" text-anchor="start" font-size="12.5" fill="#000">0.3hPa/3h</text>
<text transform="translate(685,615) scale(0.865,1)" text-anchor="start" font-size="12.5" fill="#000">0.5hPa/1h</text>
</svg>
</body></html>
